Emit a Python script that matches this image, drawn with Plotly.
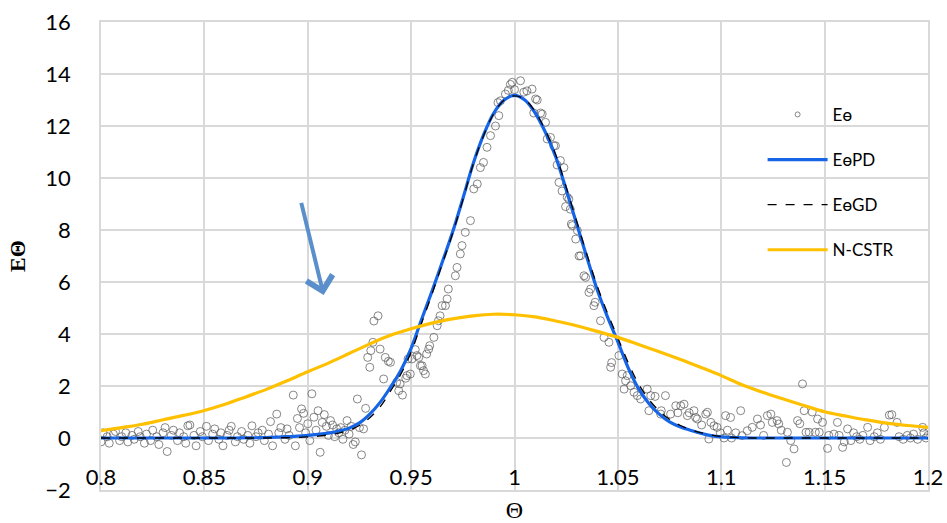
import plotly.graph_objects as go

# --- measured residence-time distribution (theta, E_theta) ---
observed = [
    (0.800, -0.15), (0.801, 0.20), (0.803, 0.05), (0.804, -0.20), (0.806, 0.15), (0.807, 0.25),
    (0.809, -0.10), (0.810, 0.05), (0.812, 0.20), (0.813, -0.15), (0.815, 0.10), (0.816, -0.05),
    (0.818, 0.25), (0.819, 0.05), (0.821, -0.20), (0.822, 0.15), (0.824, -0.10), (0.825, 0.30),
    (0.827, 0.05), (0.828, -0.25), (0.830, 0.20), (0.831, 0.40), (0.832, -0.52), (0.834, 0.10),
    (0.835, 0.30), (0.837, -0.10), (0.838, 0.20), (0.840, 0.05), (0.841, -0.20), (0.842, 0.47),
    (0.843, 0.50), (0.845, 0.10), (0.846, -0.30), (0.848, 0.25), (0.849, 0.05), (0.851, 0.45),
    (0.852, -0.10), (0.854, 0.15), (0.855, 0.35), (0.857, -0.05), (0.858, 0.20), (0.859, -0.30),
    (0.861, 0.10), (0.862, 0.30), (0.863, 0.45), (0.865, -0.15), (0.866, 0.05), (0.868, 0.25),
    (0.869, -0.05), (0.871, 0.10), (0.872, -0.20), (0.873, 0.47), (0.875, 0.05), (0.876, 0.20),
    (0.878, 0.30), (0.879, -0.10), (0.881, 0.15), (0.882, 0.63), (0.883, -0.30), (0.885, 0.92),
    (0.886, 0.20), (0.887, 0.40), (0.889, -0.05),
    (0.890, 0.35), (0.891, 0.10), (0.893, 1.65), (0.894, -0.30), (0.895, 0.75), (0.896, 0.40),
    (0.897, 1.12), (0.898, 0.95), (0.899, 0.20), (0.900, 0.55), (0.901, -0.10), (0.902, 1.70),
    (0.903, 0.80), (0.904, 0.30), (0.905, 1.05), (0.906, -0.55), (0.907, 0.60), (0.908, 0.90),
    (0.909, 0.45), (0.910, 0.10), (0.911, 0.67), (0.912, 0.50), (0.913, 0.05), (0.914, 0.35),
    (0.915, 0.20), (0.916, 0.40), (0.917, -0.05), (0.918, 0.30), (0.919, 0.67), (0.920, 0.15),
    (0.921, 0.45), (0.922, -0.25), (0.923, -0.15), (0.924, 1.50), (0.925, 0.40), (0.926, -0.65),
    (0.927, 0.35), (0.928, 1.14),
    (0.929, 3.10), (0.930, 2.72), (0.9305, 3.36), (0.9315, 3.68), (0.932, 4.50), (0.934, 4.70),
    (0.935, 3.42), (0.9367, 2.27), (0.9375, 3.10), (0.939, 2.95), (0.940, 2.91), (0.943, 2.14),
    (0.944, 1.82), (0.9447, 2.08), (0.9458, 1.65), (0.9474, 2.30), (0.948, 2.40), (0.9485, 3.04),
    (0.9496, 2.46), (0.9504, 3.04), (0.952, 3.40), (0.9528, 3.17), (0.9537, 3.10), (0.9545, 2.78),
    (0.9553, 2.78), (0.956, 2.59), (0.9569, 2.46), (0.9575, 3.23), (0.9585, 3.42), (0.959, 3.55),
    (0.961, 3.87), (0.9626, 4.32), (0.9632, 4.51), (0.964, 4.70), (0.965, 5.09), (0.9666, 5.09),
    (0.9674, 5.35), (0.968, 5.73), (0.9714, 6.24), (0.9722, 6.56), (0.9738, 7.08), (0.9746, 7.40),
    (0.9762, 7.91), (0.9787, 8.36), (0.9803, 9.58), (0.982, 9.77), (0.9835, 10.40), (0.985, 10.60),
    (0.9867, 11.18), (0.9884, 11.63), (0.9908, 12.00), (0.992, 12.90), (0.9924, 12.40), (0.9932, 12.97),
    (0.9956, 13.23), (0.997, 13.37), (0.998, 13.60), (0.9989, 13.68), (1.0000, 13.40), (1.0029, 13.74),
    (1.0045, 13.30), (1.006, 13.35), (1.0085, 13.42), (1.0093, 12.50), (1.0102, 13.04), (1.011, 13.00),
    (1.0126, 12.50), (1.0134, 12.46), (1.015, 12.14), (1.0158, 11.50), (1.0174, 11.56), (1.019, 11.24),
    (1.0198, 11.24), (1.0206, 10.50), (1.0215, 9.83), (1.0222, 10.67), (1.023, 9.50), (1.0239, 10.40),
    (1.0247, 8.90), (1.0255, 9.26), (1.0263, 9.19), (1.027, 8.80), (1.0275, 8.23), (1.028, 8.17),
    (1.0296, 7.65), (1.0304, 7.98), (1.0312, 7.00), (1.032, 7.01), (1.0336, 6.24), (1.0344, 6.18),
    (1.036, 5.60), (1.0368, 5.73), (1.0384, 5.09), (1.039, 5.22), (1.0416, 4.51), (1.0433, 3.87),
    (1.0457, 3.68), (1.0465, 2.72), (1.047, 2.90), (1.0505, 3.17),
    (1.0521, 2.46), (1.053, 1.88), (1.0537, 2.20), (1.0545, 2.40), (1.0562, 2.01), (1.0578, 1.76),
    (1.0594, 1.63), (1.061, 1.50), (1.0642, 1.88), (1.065, 1.05), (1.0659, 1.63), (1.068, 1.60),
    (1.0707, 0.92), (1.071, 1.05), (1.073, 1.63), (1.0755, 0.92), (1.078, 1.24), (1.079, 0.97),
    (1.0804, 1.24), (1.082, 1.30), (1.0836, 0.86), (1.0845, 0.97), (1.0868, 1.05), (1.0876, 0.79),
    (1.0884, 0.73), (1.0905, 0.50), (1.0925, 0.92), (1.0933, 0.99), (1.094, -0.04), (1.095, 0.60),
    (1.0965, 0.47), (1.098, 0.41), (1.0995, 0.20), (1.1013, 0.00), (1.1021, 0.86), (1.103, 0.30),
    (1.1045, 0.79), (1.105, 0.00), (1.107, 0.20), (1.1094, 1.05), (1.110, 0.09), (1.1126, 0.28),
    (1.115, 0.41), (1.1175, 0.73), (1.119, 0.50), (1.1205, 0.10), (1.1223, 0.86), (1.124, 0.92),
    (1.1247, 0.60), (1.127, 0.67), (1.1278, 0.54), (1.129, 0.30), (1.132, 0.22), (1.1315, -0.94),
    (1.1336, -0.10), (1.1352, -0.42), (1.1369, 0.67), (1.138, 0.55), (1.1393, 2.08), (1.1401, 1.05),
    (1.141, 0.22), (1.1425, 0.22), (1.144, 1.00), (1.1455, 0.22), (1.1466, 0.73), (1.1474, 0.22),
    (1.149, 0.60), (1.1514, -0.40), (1.152, 0.10), (1.1545, 0.15), (1.1562, 0.60), (1.157, 0.10),
    (1.1587, -0.36), (1.1595, -0.15), (1.1611, 0.35), (1.1627, -0.10), (1.164, 0.20), (1.1655, 0.05),
    (1.167, -0.05), (1.1685, 0.10), (1.1708, 0.41), (1.172, -0.10), (1.174, 0.05), (1.1755, 0.20),
    (1.177, -0.05), (1.1789, 0.41), (1.1813, 0.88), (1.1825, 0.90), (1.185, 0.60), (1.186, 0.05),
    (1.188, -0.05), (1.190, 0.10), (1.1915, 0.00), (1.193, 0.15), (1.195, -0.05), (1.1974, 0.41),
    (1.198, 0.20), (1.199, 0.00), (1.200, 0.10),
]
obs_theta = [p[0] for p in observed]
obs_e = [p[1] for p in observed]

# --- model curves sampled every 0.005 in theta ---
model_theta = [round(0.80 + 0.005 * i, 3) for i in range(81)]
e_pd = ([0.0] * 14 + [0.01, 0.01, 0.02] +
        [0.03, 0.05, 0.07, 0.10, 0.14, 0.19, 0.27, 0.38, 0.58, 0.92, 1.37, 1.95, 2.60, 3.45,
         4.55, 5.62, 6.75, 7.90, 9.20, 10.55, 11.65, 12.50, 13.00, 13.18, 13.00, 12.50, 11.75,
         10.80, 9.55, 8.25, 6.95, 5.70, 4.65, 3.70, 2.70, 1.90, 1.33, 0.92, 0.62, 0.43, 0.30,
         0.18, 0.09, 0.04, 0.02, 0.01] +
        [0.0] * 18)
e_gd = ([0.0] * 17 +
        [0.01, 0.01, 0.02, 0.04, 0.07, 0.12, 0.19, 0.30, 0.48, 0.78, 1.20, 1.80, 2.45, 3.30,
         4.40, 5.52, 6.68, 7.85, 9.15, 10.52, 11.62, 12.48, 13.00, 13.16, 13.02, 12.55, 11.82,
         10.88, 9.65, 8.35, 7.07, 5.85, 4.80, 3.85, 2.90, 2.08, 1.48, 1.04, 0.72, 0.49, 0.33,
         0.21, 0.12, 0.06, 0.03, 0.01] +
        [0.0] * 18)

# --- tanks-in-series model sampled every 0.01 ---
cstr_theta = [round(0.80 + 0.01 * i, 2) for i in range(41)]
e_ncstr = [0.28, 0.40, 0.53, 0.70, 0.87, 1.06, 1.30, 1.58, 1.87, 2.20, 2.55, 2.88, 3.25, 3.62,
           3.95, 4.20, 4.42, 4.58, 4.70, 4.76, 4.74, 4.66, 4.50, 4.32, 4.10, 3.87, 3.60, 3.32,
           3.03, 2.72, 2.40, 2.05, 1.76, 1.50, 1.25, 1.01, 0.85, 0.70, 0.57, 0.48, 0.41]

x_ticks = [0.8, 0.85, 0.9, 0.95, 1.0, 1.05, 1.1, 1.15, 1.2]
x_tick_text = ["0.8", "0.85", "0.9", "0.95", "1", "1.05", "1.1", "1.15", "1.2"]
y_ticks = list(range(-2, 17, 2))

GRID = "#d9d9d9"
FONT = "Lato, 'Open Sans', sans-serif"
POINT_COLOR = "rgba(95,95,95,0.75)"

fig = go.Figure()
fig.add_trace(go.Scatter(
    x=obs_theta, y=obs_e, mode="markers", name="E\u04e9", legendgroup="a", showlegend=False,
    marker=dict(symbol="circle-open", size=8, color=POINT_COLOR, line=dict(width=1)),
))
# legend entry for the measured points, with a smaller symbol
fig.add_trace(go.Scatter(
    x=[None], y=[None], mode="markers", name="E\u04e9", legendgroup="a",
    marker=dict(symbol="circle-open", size=5, color=POINT_COLOR, line=dict(width=1)),
))
fig.add_trace(go.Scatter(
    x=model_theta, y=e_pd, mode="lines", name="E\u04e9PD", legendgroup="b",
    line=dict(color="#1565e6", width=3.2, shape="spline"),
))
fig.add_trace(go.Scatter(
    x=model_theta, y=e_gd, mode="lines", name="E\u04e9GD", legendgroup="c",
    line=dict(color="black", width=1.3, dash="dash", shape="spline"),
))
fig.add_trace(go.Scatter(
    x=cstr_theta, y=e_ncstr, mode="lines", name="N-CSTR", legendgroup="d",
    line=dict(color="#ffc000", width=3.2, shape="spline"),
))
# empty trace that carries the tick-label axis crossing at E = 0
fig.add_trace(go.Scatter(
    x=[None], y=[None], xaxis="x2", yaxis="y", mode="markers",
    showlegend=False, hoverinfo="skip",
))

fig.add_annotation(
    x=0.9077, y=5.5, ax=0.8967, ay=9.1, xref="x", yref="y", axref="x", ayref="y",
    showarrow=True, arrowhead=4, arrowsize=1.3, arrowwidth=4, arrowcolor="#5b8fcb", text="",
)

fig.update_layout(
    width=947, height=523,
    margin=dict(l=101, r=19, t=22, b=33, autoexpand=False),
    paper_bgcolor="white", plot_bgcolor="white",
    font=dict(family=FONT, color="black"),
    showlegend=True,
    legend=dict(
        x=0.80, y=0.84, xanchor="left", yanchor="top",
        font=dict(family=FONT, size=17, color="black"),
        bgcolor="rgba(0,0,0,0)", itemwidth=60,
        traceorder="grouped", tracegroupgap=20,
    ),
    xaxis=dict(
        range=[0.8, 1.2], tickvals=x_ticks, showticklabels=False, automargin=False,
        showgrid=True, gridcolor=GRID, gridwidth=1.5, zeroline=False,
        showline=True, linecolor=GRID, linewidth=1.5, mirror=True, ticks="",
        title=dict(text="\u0398", font=dict(family="Liberation Serif", size=24), standoff=12),
    ),
    xaxis2=dict(
        range=[0.8, 1.2], overlaying="x", anchor="free", position=2 / 18, side="bottom",
        automargin=False,
        tickvals=x_ticks, ticktext=x_tick_text, showgrid=False, zeroline=False, showline=False,
        ticks="outside", ticklen=20, tickcolor="rgba(0,0,0,0)",
        tickfont=dict(family=FONT, size=22, color="black"),
    ),
    yaxis=dict(
        range=[-2, 16], tickvals=y_ticks, showgrid=True, gridcolor=GRID, gridwidth=1.5,
        zeroline=False, showline=True, linecolor=GRID, linewidth=1.5, mirror=True,
        automargin=False,
        ticks="outside", ticklen=24, tickcolor="rgba(0,0,0,0)",
        tickfont=dict(family=FONT, size=22, color="black"),
        title=dict(text="<b>E\u0398</b>", font=dict(family="Liberation Serif", size=22), standoff=14),
    ),
)

fig.write_html("out.html")
